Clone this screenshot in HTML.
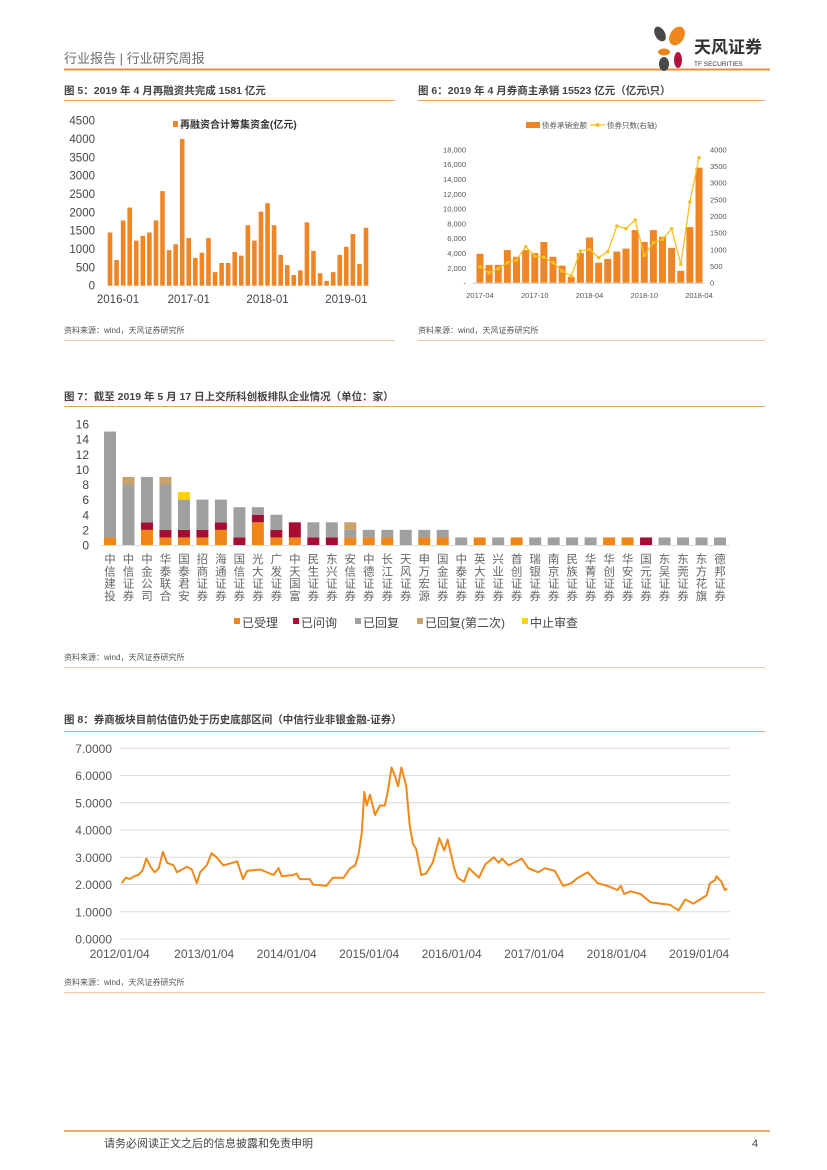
<!DOCTYPE html>
<html><head><meta charset="utf-8">
<style>
body{margin:0;background:#fff;}
svg{display:block;font-family:"Liberation Sans","Noto Sans CJK SC",sans-serif;}
</style></head>
<body>
<svg id="pg" width="827" height="1170" viewBox="0 0 827 1170" xmlns="http://www.w3.org/2000/svg">
<text x="64" y="63" font-size="13" fill="#6b6b6b">行业报告 | 行业研究周报</text>
<line x1="64" y1="69.5" x2="770" y2="69.5" stroke="#e8913a" stroke-width="2"/>
<g>
<ellipse cx="660" cy="34" rx="5" ry="8" fill="#4a4a4a" transform="rotate(-30 660 34)"/>
<ellipse cx="677" cy="36" rx="7" ry="10" fill="#f08519" transform="rotate(30 677 36)"/>
<ellipse cx="664" cy="52" rx="6" ry="3.5" fill="#f08519"/>
<ellipse cx="664" cy="64" rx="5" ry="7" fill="#4a4a4a"/>
<ellipse cx="678" cy="60" rx="4" ry="8" fill="#b3123a"/>
<text x="694" y="53" font-size="17" font-weight="bold" fill="#333">天风证券</text>
<text x="694" y="66" font-size="6.5" fill="#333">TF SECURITIES</text>
</g>
<text x="64" y="94" font-size="10.5" font-weight="bold" fill="#444">图 5：2019 年 4 月再融资共完成 1581 亿元</text>
<line x1="64" y1="100.5" x2="395" y2="100.5" stroke="#e8a060" stroke-width="1"/>
<text x="418" y="94" font-size="10.5" font-weight="bold" fill="#444">图 6：2019 年 4 月券商主承销 15523 亿元（亿元\只）</text>
<line x1="418" y1="100.5" x2="765" y2="100.5" stroke="#e8a060" stroke-width="1"/>
<text x="64" y="333" font-size="8" fill="#555">资料来源：wind，天风证券研究所</text>
<line x1="64" y1="340.5" x2="395" y2="340.5" stroke="#f1c9a5" stroke-width="1"/>
<text x="418" y="333" font-size="8" fill="#555">资料来源：wind，天风证券研究所</text>
<line x1="418" y1="340.5" x2="765" y2="340.5" stroke="#f1c9a5" stroke-width="1"/>
<text x="64" y="400" font-size="10.5" font-weight="bold" fill="#444">图 7：截至 2019 年 5 月 17 日上交所科创板排队企业情况（单位：家）</text>
<line x1="64" y1="406.5" x2="765" y2="406.5" stroke="#e8a060" stroke-width="1"/>
<text x="64" y="660" font-size="8" fill="#555">资料来源：wind，天风证券研究所</text>
<line x1="64" y1="667.5" x2="765" y2="667.5" stroke="#f1c9a5" stroke-width="1"/>
<text x="64" y="723" font-size="10.5" font-weight="bold" fill="#444">图 8：券商板块目前估值仍处于历史底部区间（中信行业非银金融-证券）</text>
<line x1="64" y1="731.5" x2="765" y2="731.5" stroke="#e8a060" stroke-width="1"/>
<text x="64" y="985" font-size="8" fill="#555">资料来源：wind，天风证券研究所</text>
<line x1="64" y1="992.5" x2="765" y2="992.5" stroke="#f1c9a5" stroke-width="1"/>
<line x1="64" y1="1131" x2="770" y2="1131" stroke="#e8913a" stroke-width="1.5"/>
<text x="104" y="1147" font-size="11" fill="#444">请务必阅读正文之后的信息披露和免责申明</text>
<text x="752" y="1147" font-size="11" fill="#444">4</text>
<g id="c5"></g>
<g id="c6"></g>
<g id="c7"></g>
<g id="c8"></g>
</svg>
<script>
const f5Values=[1450,700,1780,2130,1230,1360,1450,1780,2580,970,1130,4000,1300,760,900,1300,370,620,620,920,820,1650,1230,2020,2250,1650,840,560,290,420,1730,950,340,130,370,840,1060,1410,590,1581];
const f5Ticks=[0,500,1000,1500,2000,2500,3000,3500,4000,4500];
const f5XLabels=[[0,"2016-01"],[12,"2017-01"],[24,"2018-01"],[36,"2019-01"]];
const f6Amount=[3900,2400,2400,4400,3500,4400,4000,5500,3500,2300,800,4000,6100,2700,3200,4200,4600,7100,5500,7100,6200,4700,1600,7500,15523];
const f6Count=[480,300,420,600,680,1080,800,760,600,350,200,950,1000,750,930,1700,1620,1880,820,1200,1300,1620,550,2420,3750];
const f6LeftTicks=[0,2000,4000,6000,8000,10000,12000,14000,16000,18000];
const f6RightTicks=[0,500,1000,1500,2000,2500,3000,3500,4000];
const f6XLabels=[[0,"2017-04"],[6,"2017-10"],[12,"2018-04"],[18,"2018-10"],[24,"2018-04"]];
const f7Names=["中信建投","中信证券","中金公司","华泰联合","国泰君安","招商证券","海通证券","国信证券","光大证券","广发证券","中天国富","民生证券","东兴证券","安信证券","中德证券","长江证券","天风证券","申万宏源","国金证券","中泰证券","英大证券","兴业证券","首创证券","瑞银证券","南京证券","民族证券","华菁证券","华创证券","华安证券","国元证券","东吴证券","东莞证券","东方花旗","德邦证券"];
const f7Accepted=[1,0,2,1,1,1,2,0,3,1,1,0,0,1,1,1,0,1,1,0,1,0,1,0,0,0,0,1,1,0,0,0,0,0];
const f7Inquired=[0,0,1,1,1,1,1,1,1,1,2,1,1,0,0,0,0,0,0,0,0,0,0,0,0,0,0,0,0,1,0,0,0,0];
const f7Replied=[14,8,6,6,4,4,3,4,1,2,0,2,2,1,1,1,2,1,1,1,0,1,0,1,1,1,1,0,0,0,1,1,1,1];
const f7Replied2=[0,1,0,1,0,0,0,0,0,0,0,0,0,1,0,0,0,0,0,0,0,0,0,0,0,0,0,0,0,0,0,0,0,0];
const f7Suspended=[0,0,0,0,1,0,0,0,0,0,0,0,0,0,0,0,0,0,0,0,0,0,0,0,0,0,0,0,0,0,0,0,0,0];
const f7Ticks=[0,2,4,6,8,10,12,14,16];
const f8Dates=[2012.00,2012.05,2012.10,2012.15,2012.20,2012.25,2012.30,2012.35,2012.40,2012.45,2012.50,2012.55,2012.63,2012.67,2012.79,2012.85,2012.91,2012.95,2013.03,2013.09,2013.15,2013.23,2013.35,2013.40,2013.47,2013.52,2013.68,2013.84,2013.90,2013.94,2014.08,2014.12,2014.16,2014.28,2014.32,2014.48,2014.56,2014.69,2014.77,2014.83,2014.87,2014.91,2014.94,2014.97,2015.01,2015.07,2015.13,2015.19,2015.23,2015.27,2015.31,2015.35,2015.39,2015.45,2015.49,2015.53,2015.57,2015.63,2015.69,2015.77,2015.85,2015.91,2015.95,2016.03,2016.07,2016.15,2016.21,2016.33,2016.41,2016.51,2016.57,2016.61,2016.69,2016.85,2016.93,2017.05,2017.13,2017.25,2017.35,2017.45,2017.53,2017.65,2017.77,2017.89,2018.01,2018.05,2018.09,2018.17,2018.29,2018.41,2018.53,2018.65,2018.75,2018.83,2018.93,2019.01,2019.09,2019.13,2019.19,2019.21,2019.27,2019.31,2019.34];
const f8Values=[2.05,2.25,2.2,2.3,2.35,2.5,2.95,2.65,2.45,2.6,3.2,2.8,2.7,2.45,2.65,2.55,2.05,2.45,2.7,3.15,3.0,2.7,2.8,2.85,2.2,2.5,2.55,2.35,2.6,2.3,2.35,2.4,2.2,2.2,2.0,1.95,2.25,2.25,2.6,2.7,3.1,3.9,5.4,4.9,5.3,4.55,4.9,4.9,5.5,6.3,6.0,5.6,6.3,5.6,4.2,3.5,3.3,2.35,2.4,2.8,3.7,3.25,3.65,2.6,2.25,2.1,2.6,2.25,2.75,3.0,2.8,2.95,2.7,2.95,2.6,2.45,2.6,2.5,1.95,2.05,2.25,2.45,2.05,1.95,1.8,1.95,1.65,1.75,1.65,1.35,1.3,1.25,1.05,1.45,1.3,1.45,1.6,2.05,2.15,2.3,2.1,1.8,1.85];
const f8Ticks=[0,1,2,3,4,5,6,7];
const f8XLabels=[[2012,"2012/01/04"],[2013,"2013/01/04"],[2014,"2014/01/04"],[2015,"2015/01/04"],[2016,"2016/01/04"],[2017,"2017/01/04"],[2018,"2018/01/04"],[2019,"2019/01/04"]];

const NS="http://www.w3.org/2000/svg";
function mk(p,tag,at,txt){const e=document.createElementNS(NS,tag);for(const k in at)e.setAttribute(k,at[k]);if(txt!==undefined)e.textContent=txt;p.appendChild(e);return e;}
const OR="#ef8626";

(function(){
 const g=document.getElementById('c5');
 const y0=285.7,y1=120.7,ymax=4500,x0=110,dx=(366-110)/39,bw=4.6;
 const Y=v=>y0-(v/ymax)*(y0-y1), X=i=>x0+i*dx;
 f5Ticks.forEach(t=>{const e=mk(g,'text',{x:95,y:Y(t)+4,'font-size':11.5,fill:'#444','text-anchor':'end'},t);
  });
 f5Values.forEach((v,i)=>{const r=mk(g,'rect',{x:X(i)-bw/2,y:Y(v),width:bw,height:y0-Y(v),fill:OR});
  });
 f5XLabels.forEach(([i,l])=>{const e=mk(g,'text',{x:X(i)+(i==0?8:0),y:303,'font-size':11.5,fill:'#444','text-anchor':'middle'},l);
  });
 const lg=mk(g,'g',{});
 mk(lg,'rect',{x:173,y:121,width:5,height:6,fill:OR});
 mk(lg,'text',{x:180,y:128,'font-size':10,fill:'#333','font-weight':'bold'},'再融资合计筹集资金(亿元)');
})();

(function(){
 const g=document.getElementById('c6');
 const y0=282.7,y1=149.3,x0=480,dx=(699-480)/24,bw=7;
 const YL=v=>y0-(v/18000)*(y0-y1), YR=v=>y0-(v/4000)*(y0-y1), X=i=>x0+i*dx;
 f6LeftTicks.forEach(t=>{const e=mk(g,'text',{x:466,y:YL(t)+3,'font-size':7.5,fill:'#555','text-anchor':'end'},t==0?'-':t.toLocaleString('en-US'));
  });
 f6RightTicks.forEach(t=>{const e=mk(g,'text',{x:710,y:YR(t)+3,'font-size':7.5,fill:'#555'},t);
  });
 mk(g,'line',{x1:473,y1:y0+.5,x2:705,y2:y0+.5,stroke:'#ccc'});
 f6Amount.forEach((v,i)=>{const r=mk(g,'rect',{x:X(i)-bw/2,y:YL(v),width:bw,height:y0-YL(v),fill:OR});
  });
 const pl=mk(g,'polyline',{points:f6Count.map((v,i)=>X(i)+','+YR(v)).join(' '),fill:'none',stroke:'#f5c120','stroke-width':1.3});
 
 f6Count.forEach((v,i)=>{const c=mk(g,'circle',{cx:X(i),cy:YR(v),r:1.8,fill:'#f5c120'});
  });
 f6XLabels.forEach(([i,l])=>{const e=mk(g,'text',{x:X(i),y:298,'font-size':7.5,fill:'#555','text-anchor':'middle'},l);
  });
 const lg=mk(g,'g',{});
 mk(lg,'rect',{x:526,y:122,width:14,height:6,fill:OR});
 mk(lg,'text',{x:542,y:128,'font-size':7.5,fill:'#555'},'债券承销金额');
 mk(lg,'line',{x1:590,y1:125,x2:605,y2:125,stroke:'#f5c120','stroke-width':1.3});
 mk(lg,'circle',{cx:597.5,cy:125,r:2,fill:'#f5c120'});
 mk(lg,'text',{x:607,y:128,'font-size':7.5,fill:'#555'},'债券只数(右轴)');
})();

(function(){
 const g=document.getElementById('c7');
 const y0=545,y1=424,x0=110,dx=(720-110)/33,bw=12;
 const Y=v=>y0-(v/16)*(y0-y1), X=i=>x0+i*dx;
 f7Ticks.forEach(t=>{const e=mk(g,'text',{x:89,y:Y(t)+4.5,'font-size':12,fill:'#444','text-anchor':'end'},t);
  });
 mk(g,'line',{x1:100,y1:y0+.5,x2:730,y2:y0+.5,stroke:'#ddd'});
 const series=[[f7Accepted,'#f08519','accepted'],[f7Inquired,'#a50e32','inquired'],[f7Replied,'#a0a0a0','replied'],[f7Replied2,'#c8a26a','replied-second'],[f7Suspended,'#ffd200','suspended']];
 f7Names.forEach((n,i)=>{let acc=0;
  series.forEach(([arr,col,nm])=>{const v=arr[i];if(v>0){const r=mk(g,'rect',{x:X(i)-bw/2,y:Y(acc+v),width:bw,height:Y(acc)-Y(acc+v),fill:col});
    }acc+=v;});
  const t=mk(g,'text',{'font-size':11.5,fill:'#666','text-anchor':'middle'});
  
  [...n].forEach((ch,k)=>mk(t,'tspan',{x:X(i),y:563+k*12.3},ch));
 });
 const lg=mk(g,'g',{});
 const items=[['已受理','#f08519',234],['已问询','#a50e32',293],['已回复','#a0a0a0',355],['已回复(第二次)','#c8a26a',417],['中止审查','#ffd200',522]];
 items.forEach(([l,c,x])=>{mk(lg,'rect',{x:x,y:618,width:6,height:6,fill:c});mk(lg,'text',{x:x+8,y:627,'font-size':12,fill:'#444'},l);});
})();

(function(){
 const g=document.getElementById('c8');
 const y0=939,y1=748.3,xA=121.7,pxYear=82.5;
 const Y=v=>y0-(v/7)*(y0-y1), X=d=>xA+(d-2012)*pxYear;
 f8Ticks.forEach(t=>{mk(g,'line',{x1:120,y1:Y(t),x2:730,y2:Y(t),stroke:'#dcdcdc','stroke-width':1});
  const e=mk(g,'text',{x:112,y:Y(t)+4.5,'font-size':12,fill:'#555','text-anchor':'end'},t.toFixed(4));
  });
 const pl=mk(g,'polyline',{points:f8Dates.map((d,i)=>X(d).toFixed(1)+','+Y(f8Values[i]).toFixed(1)).join(' '),fill:'none',stroke:'#ef8a1a','stroke-width':2,'stroke-linejoin':'round'});
 
 f8XLabels.forEach(([d,l])=>{const e=mk(g,'text',{x:X(d)+(d==2012?-2:0),y:958,'font-size':12,fill:'#555','text-anchor':'middle'},l);
  });
})();
</script>
</body></html>
